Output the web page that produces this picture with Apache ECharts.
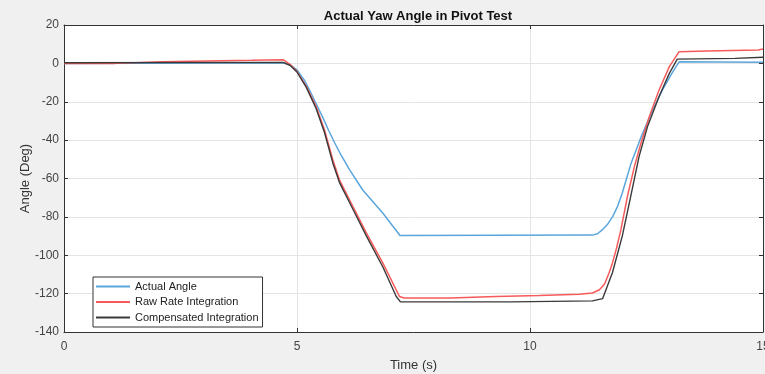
<!DOCTYPE html>
<html>
<head>
<meta charset="utf-8">
<script src="https://cdn.jsdelivr.net/npm/echarts@6/dist/echarts.min.js"></script>
<style>
html,body{margin:0;padding:0;background:#f0f0f0;}
#c{width:765px;height:374px;}
</style>
</head>
<body>
<div id="c"></div>
<script>
const titleText = 'Actual Yaw Angle in Pivot Test';
const xName = 'Time (s)';
const yName = 'Angle (Deg)';
const seriesNames = ['Actual Angle', 'Raw Rate Integration', 'Compensated Integration'];

const actualT = [0, 4.7, 4.85, 5.0, 5.15, 5.27, 5.4, 5.55, 5.68, 5.81, 5.95, 6.13, 6.41, 6.84, 7.21, 11.34, 11.45, 11.55, 11.66, 11.77, 11.88, 11.98, 12.17, 12.39, 12.6, 12.84, 13.05, 13.2, 15];
const actualV = [0, 0.3, -0.8, -3.4, -8.5, -13.9, -20.5, -28, -35, -41.5, -48, -55.5, -66, -78, -89.7, -89.5, -88.8, -86.8, -84, -80, -74.5, -67.6, -52, -38, -26, -14, -5, 0.8, 0.6];

const rawT = [0, 1.1, 1.1, 2.1, 2.1, 3.06, 3.06, 4.03, 4.03, 4.7, 4.85, 5.0, 5.2, 5.41, 5.59, 5.77, 5.91, 6.2, 6.49, 6.84, 7.2, 7.3, 8.3, 8.3, 9.27, 9.27, 10.2, 10.2, 11.06, 11.06, 11.34, 11.49, 11.6, 11.7, 11.77, 11.86, 11.95, 12.09, 12.24, 12.38, 12.56, 12.77, 12.99, 13.2, 13.8, 13.8, 14.9, 14.9, 15];
const rawV = [0, 0, 0.9, 0.9, 1.25, 1.25, 1.6, 1.6, 1.9, 1.9, -0.5, -4.3, -12, -22.5, -34.7, -50.3, -60.7, -74.6, -88.5, -104, -121.5, -122.3, -122.3, -121.5, -121.5, -121, -121, -120.3, -120.3, -119.7, -119.7, -118, -115, -109, -104, -96, -86.8, -69.4, -53.8, -41.6, -27.8, -13.9, -1.7, 6.1, 6.4, 7.0, 7.0, 7.5, 7.5];

const compT = [0, 4.7, 4.85, 5.0, 5.2, 5.41, 5.59, 5.77, 5.91, 6.2, 6.49, 6.84, 7.13, 7.22, 9.6, 9.6, 11.34, 11.56, 11.77, 11.98, 12.16, 12.34, 12.52, 12.77, 12.99, 13.16, 14.4, 14.4, 15];
const compV = [0.3, 0.5, -1, -4.5, -12.5, -23.5, -36, -52, -62, -76, -90, -106, -121.5, -124.3, -124.3, -123.8, -123.8, -122.6, -109, -90, -69.4, -48.6, -33, -17.3, -5.2, 2.2, 2.6, 3.2, 3.2];

const xTicks = {min: 0, max: 15, interval: 5};
const yTicks = {min: -140, max: 20, interval: 20};

function pairs(t, v) { return t.map((x, i) => [x, v[i]]); }

const FONT = 'Liberation Sans, Arial, Helvetica, sans-serif';
const chart = echarts.init(document.getElementById('c'), null, {renderer: 'canvas'});
const axisCommon = {
  type: 'value',
  axisLine: {show: true, onZero: false, lineStyle: {color: '#333', width: 1}},
  axisTick: {show: true, inside: true, length: 4, lineStyle: {color: '#333'}},
  splitLine: {show: false},
};
chart.setOption({
  backgroundColor: '#f0f0f0',
  animation: false,
  textStyle: {fontFamily: FONT},
  title: {
    text: titleText,
    left: 413, top: 5, textAlign: 'center',
    textStyle: {fontFamily: FONT, fontSize: 13, fontWeight: 'bold', color: '#111'}
  },
  grid: {left: 64, right: 2, top: 25, bottom: 42, show: true, backgroundColor: '#fff', borderWidth: 0,
         containLabel: false, outerBoundsMode: 'none'},
  legend: {
    orient: 'vertical', left: 93, top: 277,
    data: seriesNames,
    icon: 'rect',
    backgroundColor: '#fff', borderColor: '#333', borderWidth: 1,
    padding: [3, 4, 3, 3], itemGap: 2.5, itemWidth: 34, itemHeight: 2,
    textStyle: {fontFamily: FONT, fontSize: 11, color: '#222', lineHeight: 13}
  },
  xAxis: [
    Object.assign({}, axisCommon, {
      min: xTicks.min, max: xTicks.max, interval: xTicks.interval,
      name: xName, nameLocation: 'middle', nameGap: 27, nameMoveOverlap: false,
      nameTextStyle: {fontFamily: FONT, fontSize: 13, color: '#333'},
      axisLabel: {color: '#444', fontSize: 12, fontFamily: FONT, margin: 9},
      splitLine: {show: true, lineStyle: {color: '#e4e4e4', width: 1}}
    }),
    Object.assign({}, axisCommon, {
      position: 'top', min: xTicks.min, max: xTicks.max, interval: xTicks.interval,
      axisLabel: {show: false}
    })
  ],
  yAxis: [
    Object.assign({}, axisCommon, {
      min: yTicks.min, max: yTicks.max, interval: yTicks.interval,
      name: yName, nameLocation: 'middle', nameGap: 32, nameMoveOverlap: false,
      nameTextStyle: {fontFamily: FONT, fontSize: 13, color: '#333'},
      axisLabel: {color: '#444', fontSize: 12, fontFamily: FONT, margin: 5},
      splitLine: {show: true, lineStyle: {color: '#e4e4e4', width: 1}}
    }),
    Object.assign({}, axisCommon, {
      position: 'right', min: yTicks.min, max: yTicks.max, interval: yTicks.interval,
      axisLabel: {show: false}
    })
  ],
  series: [
    {name: seriesNames[0], type: 'line', symbol: 'none', data: pairs(actualT, actualV),
     lineStyle: {color: '#5aa6dc', width: 1.5}, itemStyle: {color: '#5aa6dc'}},
    {name: seriesNames[1], type: 'line', symbol: 'none', data: pairs(rawT, rawV),
     lineStyle: {color: '#f75a5a', width: 1.5}, itemStyle: {color: '#f75a5a'}},
    {name: seriesNames[2], type: 'line', symbol: 'none', data: pairs(compT, compV),
     lineStyle: {color: '#3a3a3a', width: 1.4}, itemStyle: {color: '#3a3a3a'}}
  ]
});
</script>
</body>
</html>
